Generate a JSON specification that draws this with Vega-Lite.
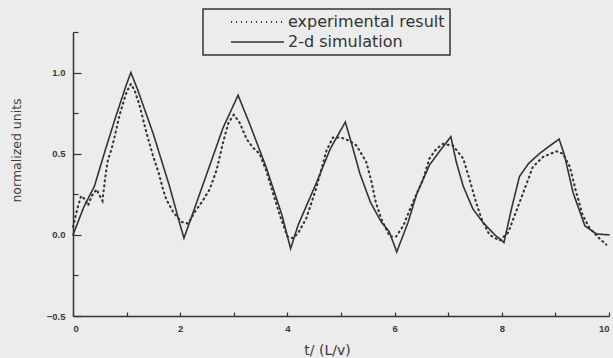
{
  "$schema": "https://vega.github.io/schema/vega-lite/v6.json",
  "width": 536,
  "height": 284,
  "autosize": {"type": "none"},
  "padding": {"left": 73, "top": 32, "right": 4, "bottom": 42},
  "background": "#ebeceb",
  "config": {
    "view": {"stroke": null},
    "axis": {
      "domainColor": "#333",
      "domainWidth": 1.5,
      "tickColor": "#333",
      "tickWidth": 1.2,
      "grid": false,
      "labelFont": "Liberation Sans",
      "labelFontWeight": "bold",
      "labelFontSize": 9.5,
      "labelColor": "#3a3a3a",
      "titleFont": "DejaVu Sans",
      "titleFontWeight": "normal",
      "titleFontSize": 12.5,
      "titleColor": "#3a3a3a"
    }
  },
  "data": {
    "values": [
      {"series": "2-d simulation", "t": 0.0, "v": 0.0},
      {"series": "2-d simulation", "t": 0.2, "v": 0.17},
      {"series": "2-d simulation", "t": 0.4, "v": 0.3},
      {"series": "2-d simulation", "t": 0.6, "v": 0.52},
      {"series": "2-d simulation", "t": 0.8, "v": 0.73},
      {"series": "2-d simulation", "t": 1.0, "v": 0.93},
      {"series": "2-d simulation", "t": 1.08, "v": 1.0},
      {"series": "2-d simulation", "t": 1.2, "v": 0.9},
      {"series": "2-d simulation", "t": 1.5, "v": 0.62},
      {"series": "2-d simulation", "t": 1.8, "v": 0.3},
      {"series": "2-d simulation", "t": 2.0, "v": 0.06},
      {"series": "2-d simulation", "t": 2.07, "v": -0.02},
      {"series": "2-d simulation", "t": 2.2, "v": 0.1},
      {"series": "2-d simulation", "t": 2.5, "v": 0.38},
      {"series": "2-d simulation", "t": 2.8, "v": 0.66},
      {"series": "2-d simulation", "t": 3.08, "v": 0.86},
      {"series": "2-d simulation", "t": 3.3, "v": 0.68},
      {"series": "2-d simulation", "t": 3.6, "v": 0.42},
      {"series": "2-d simulation", "t": 3.9, "v": 0.12},
      {"series": "2-d simulation", "t": 4.06, "v": -0.085},
      {"series": "2-d simulation", "t": 4.2, "v": 0.06},
      {"series": "2-d simulation", "t": 4.54, "v": 0.32},
      {"series": "2-d simulation", "t": 4.8, "v": 0.53},
      {"series": "2-d simulation", "t": 5.08, "v": 0.695},
      {"series": "2-d simulation", "t": 5.2, "v": 0.56},
      {"series": "2-d simulation", "t": 5.35, "v": 0.38},
      {"series": "2-d simulation", "t": 5.55, "v": 0.2},
      {"series": "2-d simulation", "t": 5.75, "v": 0.08},
      {"series": "2-d simulation", "t": 5.9, "v": 0.02},
      {"series": "2-d simulation", "t": 6.04, "v": -0.105},
      {"series": "2-d simulation", "t": 6.25, "v": 0.076},
      {"series": "2-d simulation", "t": 6.41, "v": 0.25},
      {"series": "2-d simulation", "t": 6.65, "v": 0.43},
      {"series": "2-d simulation", "t": 6.85, "v": 0.52},
      {"series": "2-d simulation", "t": 7.05, "v": 0.605},
      {"series": "2-d simulation", "t": 7.15, "v": 0.45},
      {"series": "2-d simulation", "t": 7.28, "v": 0.3},
      {"series": "2-d simulation", "t": 7.46, "v": 0.16},
      {"series": "2-d simulation", "t": 7.65, "v": 0.076},
      {"series": "2-d simulation", "t": 7.87, "v": 0.0},
      {"series": "2-d simulation", "t": 8.04, "v": -0.047},
      {"series": "2-d simulation", "t": 8.18, "v": 0.16},
      {"series": "2-d simulation", "t": 8.33, "v": 0.36},
      {"series": "2-d simulation", "t": 8.5, "v": 0.44},
      {"series": "2-d simulation", "t": 8.7, "v": 0.5},
      {"series": "2-d simulation", "t": 8.9, "v": 0.55},
      {"series": "2-d simulation", "t": 9.07, "v": 0.59},
      {"series": "2-d simulation", "t": 9.17, "v": 0.49},
      {"series": "2-d simulation", "t": 9.33, "v": 0.26},
      {"series": "2-d simulation", "t": 9.55, "v": 0.055},
      {"series": "2-d simulation", "t": 9.77, "v": 0.005},
      {"series": "2-d simulation", "t": 10.0, "v": 0.0},
      {"series": "experimental result", "t": 0.0, "v": 0.05},
      {"series": "experimental result", "t": 0.08, "v": 0.16},
      {"series": "experimental result", "t": 0.15, "v": 0.24},
      {"series": "experimental result", "t": 0.22, "v": 0.22},
      {"series": "experimental result", "t": 0.28, "v": 0.18},
      {"series": "experimental result", "t": 0.35, "v": 0.24},
      {"series": "experimental result", "t": 0.44, "v": 0.28},
      {"series": "experimental result", "t": 0.5, "v": 0.24},
      {"series": "experimental result", "t": 0.55, "v": 0.21},
      {"series": "experimental result", "t": 0.6, "v": 0.35},
      {"series": "experimental result", "t": 0.65, "v": 0.46},
      {"series": "experimental result", "t": 0.72, "v": 0.53},
      {"series": "experimental result", "t": 0.78, "v": 0.61},
      {"series": "experimental result", "t": 0.87, "v": 0.74},
      {"series": "experimental result", "t": 1.0, "v": 0.88},
      {"series": "experimental result", "t": 1.08, "v": 0.93},
      {"series": "experimental result", "t": 1.15, "v": 0.89},
      {"series": "experimental result", "t": 1.24, "v": 0.8},
      {"series": "experimental result", "t": 1.37, "v": 0.63},
      {"series": "experimental result", "t": 1.49, "v": 0.49},
      {"series": "experimental result", "t": 1.6, "v": 0.38},
      {"series": "experimental result", "t": 1.68, "v": 0.28},
      {"series": "experimental result", "t": 1.74, "v": 0.22},
      {"series": "experimental result", "t": 1.87, "v": 0.14},
      {"series": "experimental result", "t": 2.02, "v": 0.08},
      {"series": "experimental result", "t": 2.15, "v": 0.07},
      {"series": "experimental result", "t": 2.27, "v": 0.14},
      {"series": "experimental result", "t": 2.4, "v": 0.2},
      {"series": "experimental result", "t": 2.55, "v": 0.28},
      {"series": "experimental result", "t": 2.68, "v": 0.4},
      {"series": "experimental result", "t": 2.8, "v": 0.57},
      {"series": "experimental result", "t": 2.9, "v": 0.69},
      {"series": "experimental result", "t": 3.0, "v": 0.74},
      {"series": "experimental result", "t": 3.11, "v": 0.69},
      {"series": "experimental result", "t": 3.24, "v": 0.59},
      {"series": "experimental result", "t": 3.35, "v": 0.54},
      {"series": "experimental result", "t": 3.48, "v": 0.5},
      {"series": "experimental result", "t": 3.6, "v": 0.4},
      {"series": "experimental result", "t": 3.73, "v": 0.26},
      {"series": "experimental result", "t": 3.86, "v": 0.12},
      {"series": "experimental result", "t": 4.0, "v": -0.01},
      {"series": "experimental result", "t": 4.1, "v": -0.02},
      {"series": "experimental result", "t": 4.2, "v": 0.01},
      {"series": "experimental result", "t": 4.35, "v": 0.1},
      {"series": "experimental result", "t": 4.54, "v": 0.29},
      {"series": "experimental result", "t": 4.73, "v": 0.52},
      {"series": "experimental result", "t": 4.85, "v": 0.6},
      {"series": "experimental result", "t": 5.0, "v": 0.6},
      {"series": "experimental result", "t": 5.15, "v": 0.58},
      {"series": "experimental result", "t": 5.29, "v": 0.55},
      {"series": "experimental result", "t": 5.47, "v": 0.45},
      {"series": "experimental result", "t": 5.56, "v": 0.34},
      {"series": "experimental result", "t": 5.65, "v": 0.2},
      {"series": "experimental result", "t": 5.75, "v": 0.1},
      {"series": "experimental result", "t": 5.91, "v": -0.01},
      {"series": "experimental result", "t": 6.03, "v": -0.01},
      {"series": "experimental result", "t": 6.16, "v": 0.055},
      {"series": "experimental result", "t": 6.34, "v": 0.2},
      {"series": "experimental result", "t": 6.53, "v": 0.34},
      {"series": "experimental result", "t": 6.65, "v": 0.47},
      {"series": "experimental result", "t": 6.78, "v": 0.53},
      {"series": "experimental result", "t": 6.9, "v": 0.56},
      {"series": "experimental result", "t": 7.09, "v": 0.55},
      {"series": "experimental result", "t": 7.28, "v": 0.47},
      {"series": "experimental result", "t": 7.4, "v": 0.34},
      {"series": "experimental result", "t": 7.52, "v": 0.2},
      {"series": "experimental result", "t": 7.62, "v": 0.1},
      {"series": "experimental result", "t": 7.77, "v": 0.0},
      {"series": "experimental result", "t": 7.96, "v": -0.035},
      {"series": "experimental result", "t": 8.12, "v": 0.015},
      {"series": "experimental result", "t": 8.24, "v": 0.12},
      {"series": "experimental result", "t": 8.4, "v": 0.26},
      {"series": "experimental result", "t": 8.58, "v": 0.42},
      {"series": "experimental result", "t": 8.77, "v": 0.48},
      {"series": "experimental result", "t": 9.02, "v": 0.515},
      {"series": "experimental result", "t": 9.14, "v": 0.5},
      {"series": "experimental result", "t": 9.27, "v": 0.42},
      {"series": "experimental result", "t": 9.39, "v": 0.26},
      {"series": "experimental result", "t": 9.51, "v": 0.12},
      {"series": "experimental result", "t": 9.64, "v": 0.04},
      {"series": "experimental result", "t": 9.83, "v": -0.025},
      {"series": "experimental result", "t": 9.95, "v": -0.06}
    ]
  },
  "mark": {"type": "line", "strokeCap": "round", "color": "#333333"},
  "encoding": {
    "x": {
      "field": "t",
      "type": "quantitative",
      "scale": {"domain": [0, 10], "nice": false, "zero": false},
      "axis": {
        "values": [0, 1, 2, 3, 4, 5, 6, 7, 8, 9, 10],
        "format": "d",
        "labelExpr": "datum.value % 2 === 0 ? datum.label : ''",
        "tickSize": -4,
        "labelPadding": 11,
        "title": "t/ (L/v)",
        "titleFontSize": 14,
        "titleX": 254,
        "titleY": 34,
        "titleBaseline": "middle",
        "titleAlign": "center"
      }
    },
    "y": {
      "field": "v",
      "type": "quantitative",
      "scale": {"domain": [-0.5, 1.25], "nice": false, "zero": false},
      "axis": {
        "values": [-0.5, -0.25, 0, 0.25, 0.5, 0.75, 1, 1.25],
        "format": ".1f",
        "labelExpr": "datum.value % 0.5 === 0 ? datum.label : ''",
        "tickSize": {"condition": {"test": "datum.value % 0.5 === 0", "value": -8}, "value": -5},
        "labelPadding": 16,
        "title": "normalized units",
        "titleX": -57,
        "titleY": 118,
        "titleAngle": 270,
        "titleAlign": "center",
        "titleBaseline": "middle"
      }
    },
    "strokeWidth": {
      "field": "series",
      "type": "nominal",
      "scale": {"domain": ["experimental result", "2-d simulation"], "range": [2.1, 1.6]},
      "legend": null
    },
    "strokeDash": {
      "field": "series",
      "type": "nominal",
      "scale": {"domain": ["experimental result", "2-d simulation"], "range": [[1, 4], [1, 0]]},
      "legend": {
        "orient": "none",
        "legendX": 130,
        "legendY": -23,
        "title": null,
        "strokeColor": "#333",
        "padding": 5,
        "symbolType": "M-5.3,0H5.3",
        "symbolSize": 100,
        "symbolStrokeWidth": 1.4,
        "symbolStrokeColor": "#333",
        "symbolOffset": 41.5,
        "labelFont": "DejaVu Sans",
        "labelFontSize": 16,
        "labelColor": "#333",
        "labelOffset": 22.5,
        "labelLimit": 400,
        "labelExpr": "datum.label + '\u00a0\u00a0\u00a0\u00a0\u00a0'",
        "rowPadding": 4,
        "encode": {"legend": {"update": {"strokeWidth": {"value": 1.5}}}}
      }
    }
  }
}
